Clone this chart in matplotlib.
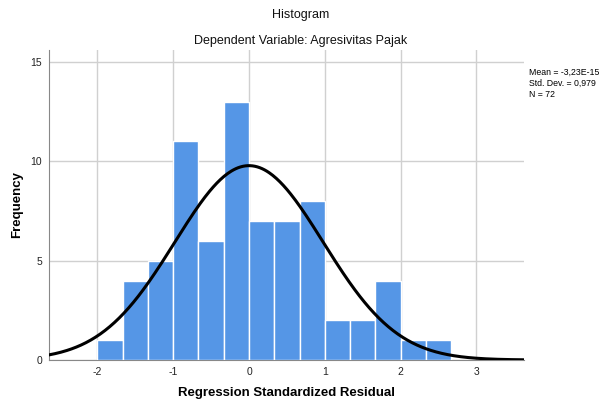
import numpy as np
import matplotlib.pyplot as plt

plt.rcParams['font.family'] = ['Liberation Sans', 'DejaVu Sans']
plt.rcParams['axes.unicode_minus'] = False

# histogram of regression standardized residuals
bin_edges = [-2.0, -5/3, -4/3, -1.0, -2/3, -1/3, 0.0, 1/3, 2/3, 1.0, 4/3, 5/3, 2.0, 7/3, 8/3]
counts = [1, 4, 5, 11, 6, 13, 7, 7, 8, 2, 2, 4, 1, 1]
mean, sd, n = -3.23e-15, 0.979, 72
x_ticks = [-2, -1, 0, 1, 2, 3]
y_ticks = [0, 5, 10, 15]

fig = plt.figure(figsize=(6.02, 4.03), dpi=100)
ax = fig.add_axes([49/602, 1 - 360/403, (524-49)/602, (360-50)/403])

lefts = bin_edges[:-1]
widths = np.diff(bin_edges)
ax.bar(lefts, counts, width=widths, align='edge', color='#5596e6',
       edgecolor='white', linewidth=1.0, zorder=3)

xs = np.linspace(-2.64, 3.63, 400)
bw = widths[0]
ys = n * bw * np.exp(-0.5 * ((xs - mean) / sd) ** 2) / (sd * np.sqrt(2 * np.pi))
ax.plot(xs, ys, color='black', lw=2.2, zorder=4)

ax.set_xlim(-2.64, 3.63)
ax.set_ylim(0, 15.6)
ax.set_xticks(x_ticks)
ax.set_yticks(y_ticks)
ax.grid(True, color='#d0d0d0', lw=1, zorder=0)
for s in ['top', 'right']:
    ax.spines[s].set_visible(False)
for s in ['left', 'bottom']:
    ax.spines[s].set_color('#888888')
ax.tick_params(labelsize=7.5, length=0, labelcolor='#222222', pad=5)

ax.set_xlabel('Regression Standardized Residual', fontsize=9.5, fontweight='bold', labelpad=7)
ax.set_ylabel('Frequency', fontsize=9.5, fontweight='bold', labelpad=5)

fig.text(0.5, 1 - 15/403, 'Histogram', ha='center', va='center', fontsize=9, color='#111111')
fig.text(0.5, 1 - 41/403, 'Dependent Variable: Agresivitas Pajak', ha='center', va='center', fontsize=9, color='#111111')
fig.text(529/602, 1 - 68/403, f'Mean = -3,23E-15\nStd. Dev. = 0,979\nN = {n}',
         ha='left', va='top', fontsize=6.3, linespacing=1.3)

fig.savefig('out.png', dpi=100)
